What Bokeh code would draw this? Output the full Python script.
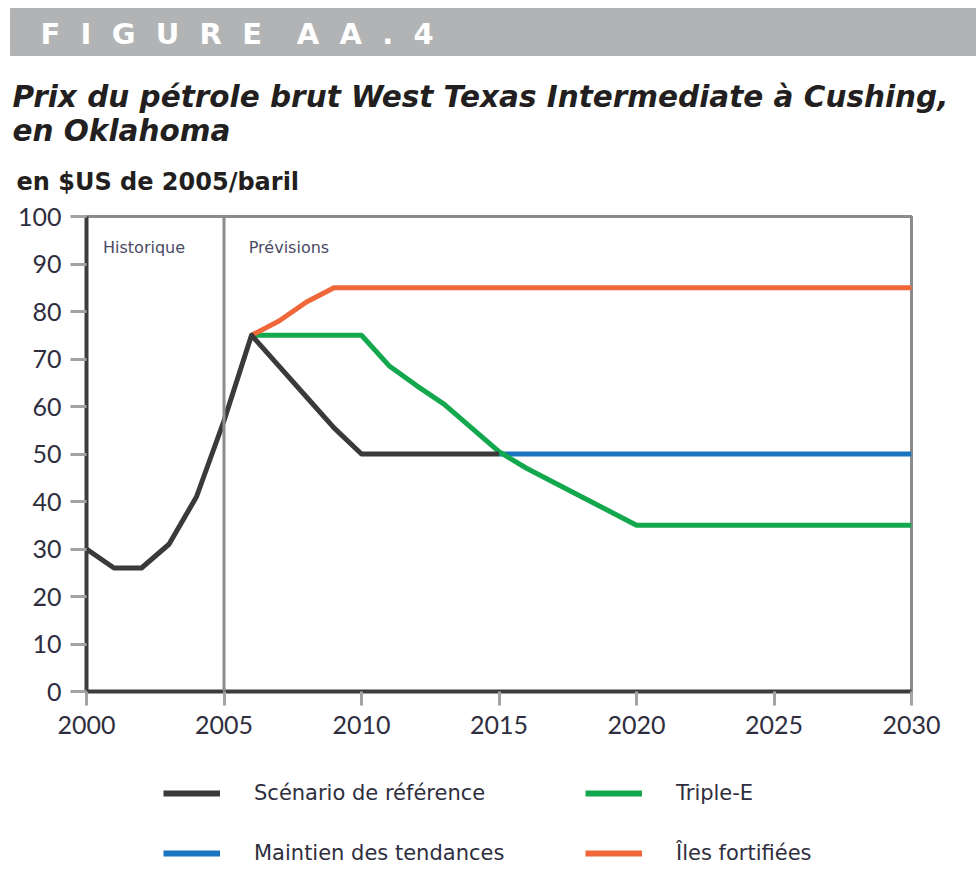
from bokeh.plotting import figure
from bokeh.models import Range1d, Span, Label, Legend, LegendItem, FixedTicker
from bokeh.layouts import column
from bokeh.embed import file_html
from bokeh.resources import INLINE

# ---- data ----
ref_years = [2000, 2001, 2002, 2003, 2004, 2005, 2006, 2007, 2008, 2009, 2010, 2011, 2012, 2013, 2014, 2015]
ref_vals = [30, 26, 26, 31, 41, 57, 75, 68.5, 62, 55.5, 50, 50, 50, 50, 50, 50]
tend_years = [2015, 2020, 2025, 2030]
tend_vals = [50, 50, 50, 50]
ee_years = [2006, 2007, 2008, 2009, 2010, 2011, 2012, 2013, 2014, 2015, 2016, 2017, 2018, 2019, 2020, 2025, 2030]
ee_vals = [75, 75, 75, 75, 75, 68.6, 64.4, 60.5, 55.5, 50.5, 47, 44, 41, 38, 35, 35, 35]
iles_years = [2006, 2007, 2008, 2009, 2015, 2020, 2025, 2030]
iles_vals = [75, 78, 82, 85, 85, 85, 85, 85]
x_ticks = [2000, 2005, 2010, 2015, 2020, 2025, 2030]
y_ticks = [0, 10, 20, 30, 40, 50, 60, 70, 80, 90, 100]
names = ["Scénario de référence", "Triple-E", "Maintien des tendances", "Îles fortifiées"]

FONT = "Lato"
HFONT = "DejaVu Sans"
TXT = "#2e2e3e"
C_REF = "#3a3a3a"
C_TEND = "#1a74bf"
C_EE = "#14a84e"
C_ILES = "#f0673a"
LW = 5

W = 976
HH = 200
CH = 560
LH = 124


def bare(fig):
    fig.frame_align = False
    fig.axis.visible = False
    fig.grid.visible = False
    fig.outline_line_color = None


# ---- header figure ----
h = figure(width=W, height=HH, x_range=Range1d(0, W), y_range=Range1d(HH, 0),
           min_border=0, toolbar_location=None, output_backend="svg")
bare(h)
h.quad(left=10, right=W, top=8, bottom=55, color="#b2b3b5")
G1 = "\u2002\u2009"
G2 = "\u2002\u2009\u2002"
h.add_layout(Label(x=40, y=33, text=G1.join("FIGURE") + G2 + G1.join("AA.4"),
                   text_font=HFONT, text_font_size="29px", text_font_style="bold",
                   text_color="white", text_baseline="middle"))
h.add_layout(Label(x=12, y=96, text="Prix du pétrole brut West Texas Intermediate à Cushing,",
                   text_font=HFONT, text_font_size="29.5px", text_font_style="bold italic",
                   text_color="#231f20", text_baseline="middle"))
h.add_layout(Label(x=12, y=130, text="en Oklahoma",
                   text_font=HFONT, text_font_size="29.5px", text_font_style="bold italic",
                   text_color="#231f20", text_baseline="middle"))
h.add_layout(Label(x=16, y=181, text="en $US de 2005/baril",
                   text_font=HFONT, text_font_size="24px", text_font_style="bold",
                   text_color="#231f20", text_baseline="middle"))

# ---- chart figure ----
p = figure(width=W, height=CH, x_range=Range1d(2000, 2030), y_range=Range1d(0, 100),
           min_border_top=16, min_border_bottom=CH - 491, min_border_left=86, min_border_right=65,
           toolbar_location=None, output_backend="svg")
p.frame_align = False
p.grid.visible = False
p.outline_line_color = "#8c8c8c"
p.outline_line_width = 3

for ax in (p.xaxis[0], p.yaxis[0]):
    ax.axis_line_color = "#3c3c3c"
    ax.axis_line_width = 4
    ax.major_tick_line_color = "#a3a3a3"
    ax.major_tick_line_width = 3
    ax.major_tick_in = 0
    ax.minor_tick_line_color = None
    ax.major_label_text_font = FONT
    ax.major_label_text_font_size = "25px"
    ax.major_label_text_color = TXT

p.xaxis[0].ticker = FixedTicker(ticks=x_ticks)
p.yaxis[0].ticker = FixedTicker(ticks=y_ticks)
p.xaxis[0].major_tick_out = 14
p.yaxis[0].major_tick_out = 16
p.xaxis[0].major_label_standoff = 10
p.yaxis[0].major_label_standoff = 9

p.add_layout(Span(location=2005, dimension="height", line_color="#8c8c8c", line_width=3))

p.add_layout(Label(x=2000.6, y=93.5, text="Historique", text_font=HFONT, text_font_size="16px",
                   text_color="#4a4a66", text_baseline="middle"))
p.add_layout(Label(x=2005.9, y=93.5, text="Prévisions", text_font=HFONT, text_font_size="16px",
                   text_color="#4a4a66", text_baseline="middle"))

p.line(tend_years, tend_vals, line_color=C_TEND, line_width=LW)
p.line(ee_years, ee_vals, line_color=C_EE, line_width=LW)
p.line(iles_years, iles_vals, line_color=C_ILES, line_width=LW)
p.line(ref_years, ref_vals, line_color=C_REF, line_width=LW, line_join="round")

# ---- legend figure (its renderers are hidden; only the key is shown) ----
lg = figure(width=W, height=LH, x_range=Range1d(2000, 2030), y_range=Range1d(0, 100),
            min_border=0, toolbar_location=None, output_backend="svg")
bare(lg)
series = [(ref_years, ref_vals, C_REF), (ee_years, ee_vals, C_EE),
          (tend_years, tend_vals, C_TEND), (iles_years, iles_vals, C_ILES)]
items = []
for name, (xs, ys, col) in zip(names, series):
    r = lg.line(xs, ys, line_color=col, line_width=6)
    r.visible = False
    items.append(LegendItem(label=name, renderers=[r]))
legend = Legend(items=items, orientation="horizontal", ncols=2,
                location=(163, 16),
                glyph_width=57, glyph_height=30, label_height=30, label_width=301,
                label_standoff=34, spacing=30, padding=0, margin=0,
                border_line_color=None, background_fill_alpha=0,
                inactive_fill_alpha=0,
                label_text_font=HFONT, label_text_font_size="21px", label_text_color=TXT)
lg.add_layout(legend)

layout = column(h, p, lg, spacing=0)
open("out.html", "w").write(file_html(layout, INLINE))
